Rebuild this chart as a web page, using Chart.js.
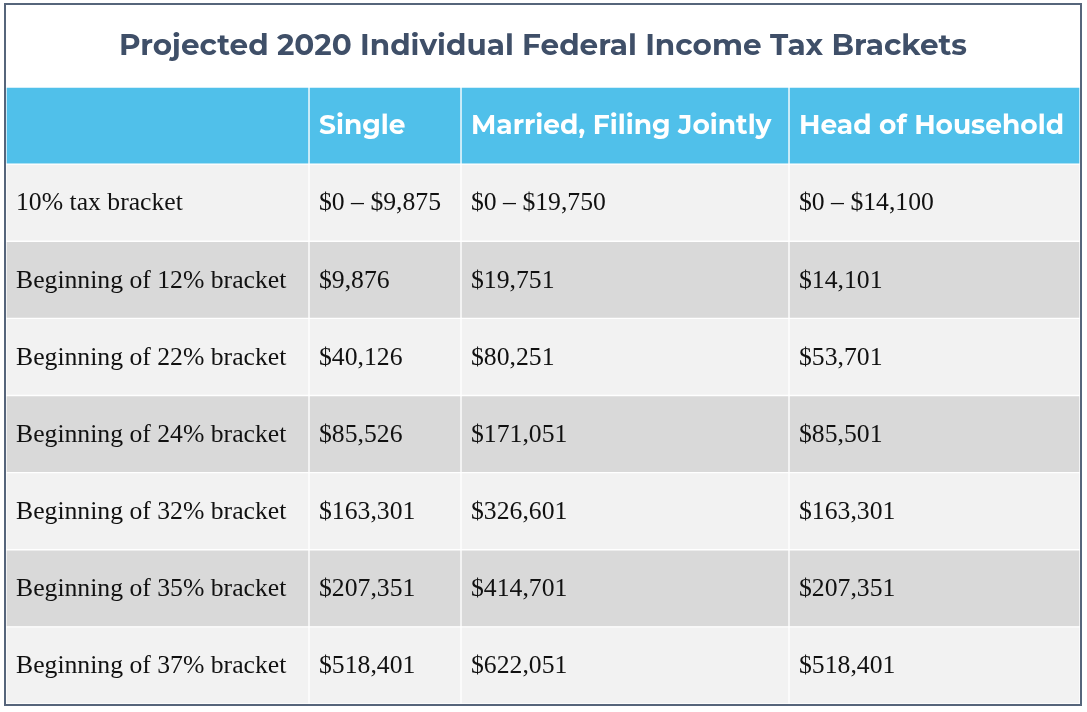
<!DOCTYPE html>
<html>
<head>
<meta charset="utf-8">
<script src="https://cdn.jsdelivr.net/npm/chart.js@4.4.1/dist/chart.umd.min.js"></script>
<style>
  html, body { margin: 0; padding: 0; background: #fff; }
  #frame { position: absolute; left: 4px; top: 3px; width: 1074px; height: 699px; border: 2px solid #56657b; }
  #frame canvas { display: block; }
</style>
</head>
<body>
<div id="frame"><canvas id="taxTable" width="1074" height="699"></canvas></div>
<script>
const tableTitle = "Projected 2020 Individual Federal Income Tax Brackets";
const columnHeaders = ["", "Single", "Married, Filing Jointly", "Head of Household"];
const bracketLabels = [
  "10% tax bracket",
  "Beginning of 12% bracket",
  "Beginning of 22% bracket",
  "Beginning of 24% bracket",
  "Beginning of 32% bracket",
  "Beginning of 35% bracket",
  "Beginning of 37% bracket",
];
const singleValues = ["$0 – $9,875", "$9,876", "$40,126", "$85,526", "$163,301", "$207,351", "$518,401"];
const marriedValues = ["$0 – $19,750", "$19,751", "$80,251", "$171,051", "$326,601", "$414,701", "$622,051"];
const headValues = ["$0 – $14,100", "$14,101", "$53,701", "$85,501", "$163,301", "$207,351", "$518,401"];

// column edges along the x scale (table width units)
const colEdges = [0, 303, 455, 783, 1074];

const HEADER_BLUE = "#50c0ea";
const ROW_LIGHT = "#f2f2f2";
const ROW_DARK = "#d9d9d9";

const rows = ["header", ...bracketLabels];
const columns = [bracketLabels, singleValues, marriedValues, headValues];

const rowColors = rows.map((r, i) => (i === 0 ? HEADER_BLUE : i % 2 === 1 ? ROW_LIGHT : ROW_DARK));

const datasets = columns.map((values, c) => ({
  label: columnHeaders[c] || "Bracket",
  data: rows.map(() => [colEdges[c], colEdges[c + 1]]),
  texts: [columnHeaders[c], ...values],
  backgroundColor: rowColors,
  borderColor: "#ffffff",
  borderWidth: 1,
  borderSkipped: false,
  grouped: false,
  categoryPercentage: 1,
  barPercentage: 1,
}));

// Draws the cell texts on top of the bars
const cellText = {
  id: "cellText",
  afterDatasetsDraw(chart) {
    const ctx = chart.ctx;
    ctx.save();
    ctx.textBaseline = "middle";
    ctx.textAlign = "left";
    chart.data.datasets.forEach((ds, c) => {
      const meta = chart.getDatasetMeta(c);
      meta.data.forEach((bar, r) => {
        const text = ds.texts[r];
        if (!text) return;
        const left = Math.min(bar.x, bar.base);
        if (r === 0) {
          ctx.font = "700 26.5px Montserrat, Inter, 'Open Sans', sans-serif";
          ctx.fillStyle = "#ffffff";
        } else {
          ctx.font = "25.7px 'Liberation Serif', 'DejaVu Serif', serif";
          ctx.fillStyle = "#111111";
        }
        ctx.fillText(text, left + 10, bar.y + 1);
      });
    });
    ctx.restore();
  },
};

new Chart(document.getElementById("taxTable"), {
  type: "bar",
  data: { labels: rows, datasets },
  options: {
    indexAxis: "y",
    responsive: false,
    animation: false,
    devicePixelRatio: 1,
    layout: { padding: 0 },
    scales: {
      x: { type: "linear", min: colEdges[0], max: colEdges[colEdges.length - 1], display: false },
      y: { display: false },
    },
    plugins: {
      legend: { display: false },
      tooltip: { enabled: false },
      title: {
        display: true,
        text: tableTitle,
        color: "#3f4f68",
        font: { family: "Montserrat, Inter, 'Open Sans', sans-serif", size: 29.5, weight: "700", lineHeight: 1.2 },
        padding: { top: 24, bottom: 22.6 },
      },
    },
  },
  plugins: [cellText],
});
</script>
</body>
</html>
